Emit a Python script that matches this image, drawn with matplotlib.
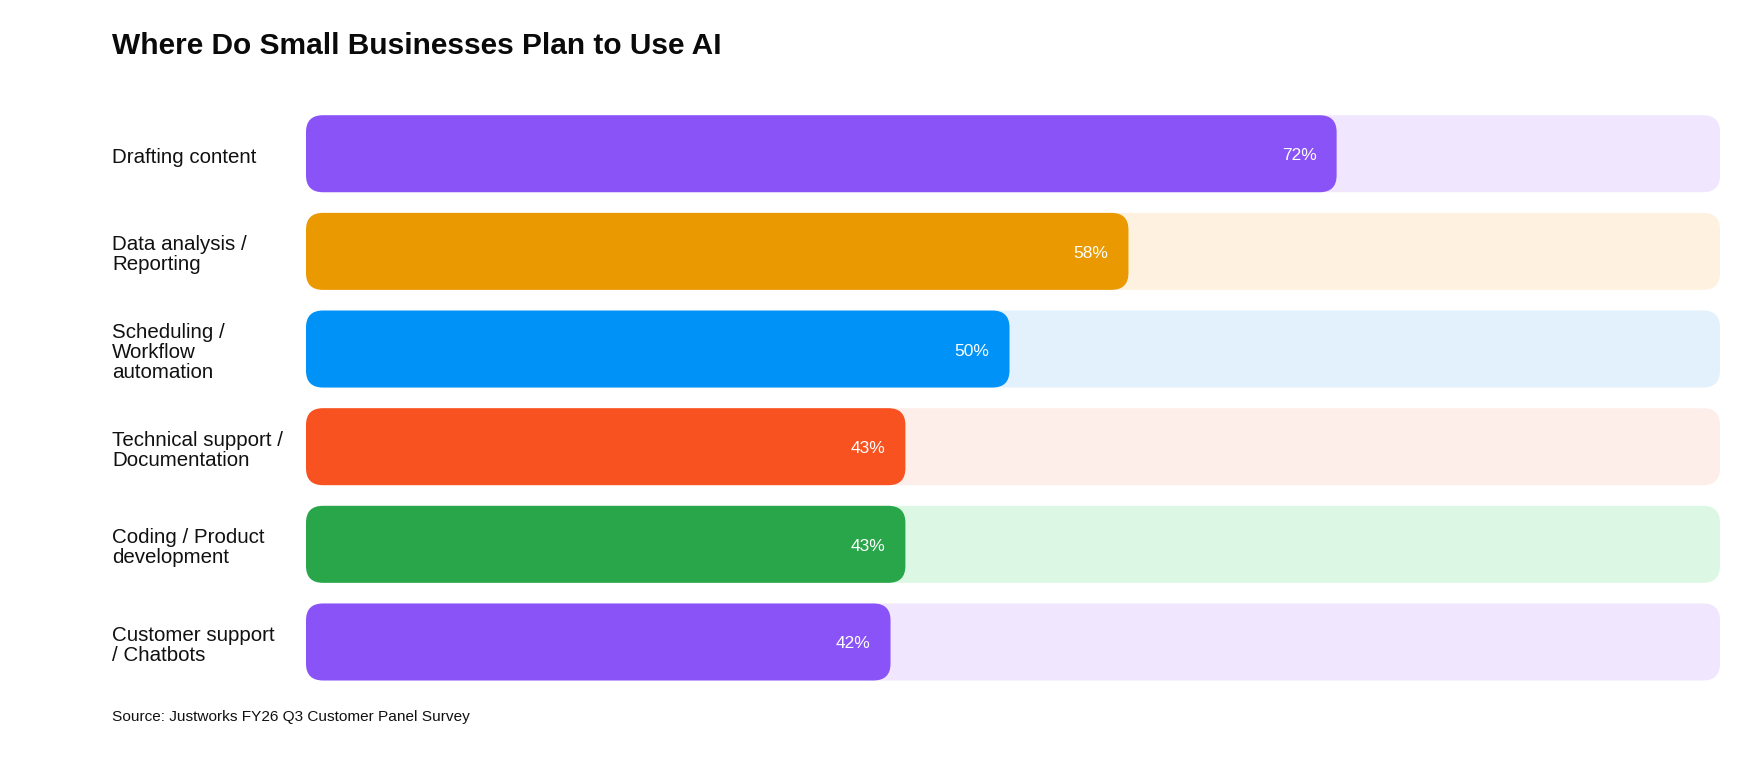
import matplotlib.pyplot as plt
from matplotlib.patches import FancyBboxPatch
import matplotlib.transforms as mtransforms

plt.rcParams['font.family'] = ['Liberation Sans', 'DejaVu Sans']

# data
categories = [
    "Drafting content",
    "Data analysis /\nReporting",
    "Scheduling /\nWorkflow\nautomation",
    "Technical support /\nDocumentation",
    "Coding / Product\ndevelopment",
    "Customer support\n/ Chatbots",
]
values = [72, 58, 50, 43, 43, 42]
bar_colors = ["#8A53F8", "#EA9A00", "#0092F7", "#F75220", "#2AA64A", "#8A53F8"]
track_colors = ["#F0E6FE", "#FEF1DF", "#E3F1FC", "#FEEEEA", "#DCF8E4", "#F0E6FE"]

W, H = 1740, 780
fig = plt.figure(figsize=(W / 100, H / 100), dpi=100)
fig.patch.set_facecolor('white')

# value scale in pixels: 0% sits a bit left of where the track starts
zero_px, px_per_pct = 266, 14.87
track_l_px, track_r_px = 306, 1720
top_px, bot_px = 104.9, 690.8
ax = fig.add_axes([zero_px / W, 1 - bot_px / H, 100 * px_per_pct / W, (bot_px - top_px) / H])
ax.set_xlim(0, 100)
ax.set_ylim(len(values) - 0.5, -0.5)
ax.axis('off')

x0 = (track_l_px - zero_px) / px_per_pct
x1 = (track_r_px - zero_px) / px_per_pct
px_per_y = (bot_px - top_px) / len(values)
aspect = px_per_pct / px_per_y
bar_h = 77 / px_per_y
r = 17 / px_per_pct

val_shift = mtransforms.ScaledTranslation(0, -2 / 100, fig.dpi_scale_trans)
for i, (v, c, tc) in enumerate(zip(values, bar_colors, track_colors)):
    y0 = i - bar_h / 2
    ax.add_patch(FancyBboxPatch((x0, y0), x1 - x0, bar_h,
                                boxstyle=f"round,pad=0,rounding_size={r}",
                                mutation_aspect=aspect, fc=tc, ec='none'))
    ax.add_patch(FancyBboxPatch((x0, y0), v - x0, bar_h,
                                boxstyle=f"round,pad=0,rounding_size={r}",
                                mutation_aspect=aspect, fc=c, ec='none'))
    ax.text(v - 1.35, i, f"{v}%", ha='right', va='center', color='white',
            fontsize=12.5, transform=ax.transData + val_shift)

# category labels, nudged down a few pixels
shift = mtransforms.ScaledTranslation(0, -3.5 / 100, fig.dpi_scale_trans)
trans = mtransforms.blended_transform_factory(fig.transFigure, ax.transData) + shift
for i, lab in enumerate(categories):
    ax.text(112 / W, i, lab, transform=trans, ha='left', va='center',
            fontsize=14.8, color='#111111', linespacing=1.05)

fig.text(112 / W, 1 - 46 / H, "Where Do Small Businesses Plan to Use AI",
         ha='left', va='center', fontsize=21.5, fontweight='bold', color='#0a0a0a')
fig.text(112 / W, 1 - 717 / H, "Source: Justworks FY26 Q3 Customer Panel Survey",
         ha='left', va='center', fontsize=11.1, color='#111111')

fig.savefig('out.png', dpi=100, facecolor='white')
